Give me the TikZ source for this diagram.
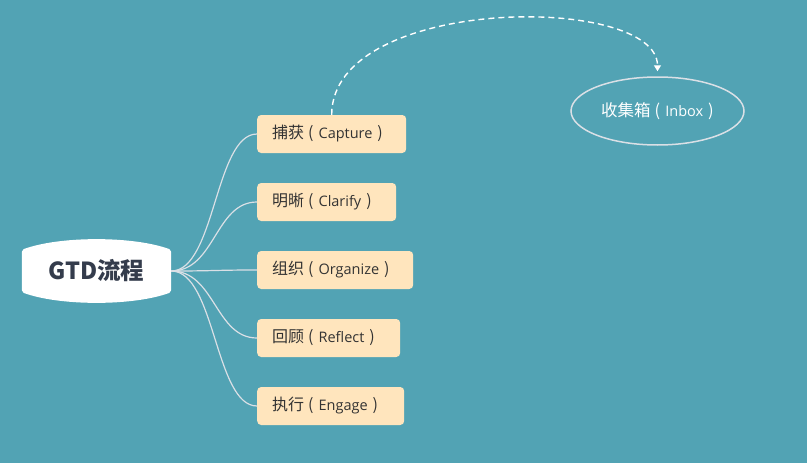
\documentclass[tikz,border=0pt]{standalone}
\usepackage{fontspec}
\usepackage{tikz}
\usetikzlibrary{shapes.geometric, arrows.meta, positioning, backgrounds}
\setmainfont{Noto Sans CJK SC}
\newfontfamily\latfont{Open Sans}
\definecolor{bgteal}{RGB}{82, 163, 180}
\definecolor{leafbeige}{RGB}{255, 229, 189}
\definecolor{leaftext}{RGB}{51, 51, 51}
\definecolor{roottext}{RGB}{52, 60, 76}
\definecolor{linkgray}{RGB}{218, 224, 230}
% Chinese word followed by its English name in brackets
\newcommand{\zhen}[3]{{\fontsize{#3}{18}\selectfont #1\hspace{4pt}(\hspace{5pt}}{\latfont #2}{\fontsize{#3}{18}\selectfont\hspace{5pt})}}

\begin{document}
\begin{tikzpicture}[
    x=1pt, y=-1pt,
    every node/.style={font=\fontsize{14.5}{16}\selectfont},
    root/.style={
        minimum width=149pt,
        minimum height=42pt,
        inner sep=0pt,
        text=roottext,
        font=\fontsize{23.5}{26}\selectfont\bfseries
    },
    leaf/.style={
        rectangle,
        fill=leafbeige,
        rounded corners=4pt,
        anchor=west,
        minimum height=38pt,
        inner xsep=15pt,
        align=left,
        text=leaftext
    },
    inboxnode/.style={
        ellipse,
        draw=linkgray,
        line width=1.5pt,
        minimum width=173pt,
        minimum height=68pt,
        text=white
    },
    branch/.style={
        draw=linkgray,
        line width=1.2pt
    },
    jump/.style={
        draw=white,
        line width=1.4pt,
        dash pattern=on 6pt off 4pt,
        -{Triangle[width=7pt, length=6pt]}
    }
]
\useasboundingbox (0,0) rectangle (807,463);

% ==================== BACKGROUND ====================
\begin{scope}[on background layer]
\fill[bgteal] (0,0) rectangle (807,463);
\end{scope}

% ==================== ROOT ====================
\node (gtd) [root] at (96.5,271) {GTD流程};
\begin{scope}[on background layer]
\fill[white, rounded corners=2pt]
    (gtd.north west) .. controls +(38,-14) and +(-38,-14) .. (gtd.north east)
    -- (gtd.south east) .. controls +(-38,14) and +(38,14) .. (gtd.south west)
    -- cycle;
\end{scope}

% ==================== BRANCHES ====================
\node (capture)  [leaf, text width=119pt] at (257,134) {\zhen{捕获}{Capture}{16}};
\node (clarify)  [leaf, text width=109pt] at (257,202) {\zhen{明晰}{Clarify}{16}};
\node (organize) [leaf, text width=126pt] at (257,270) {\zhen{组织}{Organize}{16}};
\node (reflect)  [leaf, text width=113pt] at (257,338) {\zhen{回顾}{Reflect}{16}};
\node (engage)   [leaf, text width=117pt] at (257,406) {\zhen{执行}{Engage}{16}};

% ==================== INBOX ====================
\node (inbox) [inboxnode] at (657.5,111) {\zhen{收集箱}{Inbox}{16.5}};

% ==================== CONNECTIONS ====================
\foreach \leafname in {capture, clarify, organize, reflect, engage}
    \draw [branch] (gtd.east) .. controls +(44,0) and +(-42,0) .. (\leafname.west);

\draw [jump] (capture.north) .. controls +(0,-120) and +(0,-78) .. ([yshift=5pt]inbox.north);

\end{tikzpicture}
\end{document}
